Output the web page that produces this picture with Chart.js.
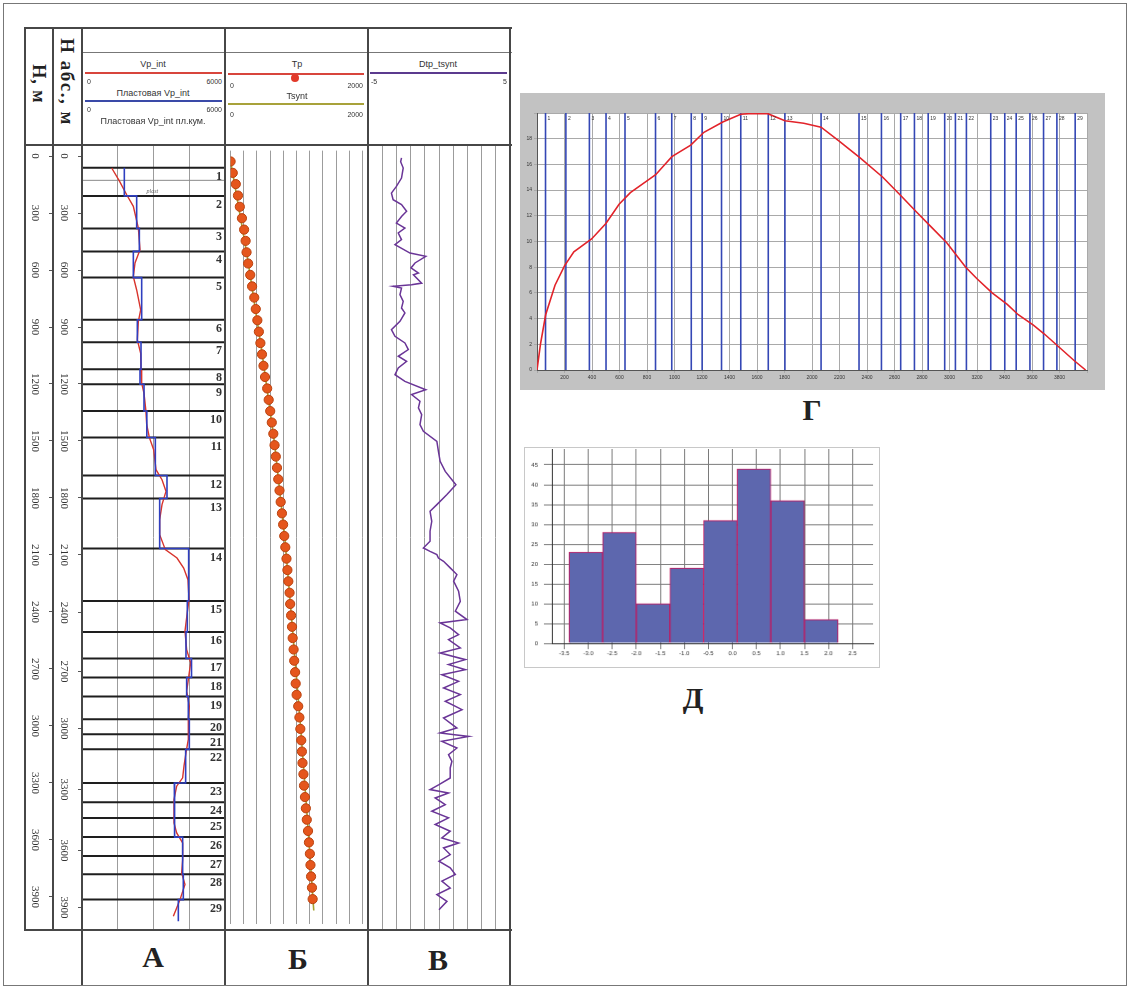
<!DOCTYPE html>
<html lang="ru">
<head>
<meta charset="utf-8">
<title>Скважина: Vp_int, Tp, Dtp_tsynt</title>
<script src="https://cdn.jsdelivr.net/npm/chart.js@4.4.1/dist/chart.umd.min.js"></script>
<style>
  body { margin: 0; background: #fff; }
  #page { position: relative; width: 1131px; height: 989px; overflow: hidden; font-family: 'Liberation Sans', Arial, sans-serif; }
  #page canvas { position: absolute; }
  .ln { position: absolute; }
  .tx { position: absolute; white-space: nowrap; line-height: 1; }
</style>
</head>
<body>
<div id="page">
  <canvas id="cA" width="200" height="785" style="left:25px;top:145px"></canvas>
  <canvas id="cB" width="143" height="785" style="left:225px;top:145px"></canvas>
  <canvas id="cC" width="142" height="785" style="left:368px;top:145px"></canvas>
  <canvas id="cG" width="585" height="297" style="left:520px;top:93px;background:#c2c2c2"></canvas>
  <canvas id="cD" width="356" height="221" style="left:524px;top:447px;border:1px solid #c8c8c8"></canvas>
</div>
<script>
'use strict';
// ---- данные ----
const depthTicks = [0, 300, 600, 900, 1200, 1500, 1800, 2100, 2400, 2700, 3000, 3300, 3600, 3900];
const absDepthLabels = [0, 300, 600, 900, 1200, 1500, 1800, 2100, 2400, 2700, 3000, 3300, 3600, 3900];
const absDepthAtMD = [0, 300, 600, 900, 1200, 1500, 1800, 2100, 2404, 2713, 3014, 3335, 3655, 3956];

// кровли пластов 1..29, м
const layerTops = [62, 210, 381, 502, 640, 862, 980, 1122, 1201, 1342, 1482, 1682, 1803, 2066, 2342,
  2505, 2645, 2745, 2845, 2965, 3043, 3123, 3300, 3402, 3485, 3585, 3684, 3781, 3914];
const layerBottom = 4028;
const plastVp = [1776, 2294, 2406, 2154, 2504, 2322, 2476, 2434, 2602, 2720, 3077, 3566, 3259, 4475, 4419,
  4363, 4595, 4391, 4461, 4503, 4503, 4349, 3874, 3902, 3874, 4223, 4223, 4251, 4042];
const subLines = [128];

const vpDepth = [63, 130, 204, 265, 379, 493, 563, 635, 705, 810, 871, 968, 1038, 1126, 1196, 1249, 1340, 1413,
  1481, 1546, 1651, 1704, 1765, 1835, 1914, 1993, 2072, 2116, 2169, 2230, 2335, 2420, 2502, 2598, 2668, 2756,
  2817, 2896, 2966, 3071, 3141, 3211, 3273, 3317, 3387, 3510, 3563, 3616, 3704, 3774, 3835, 3914, 3958, 4002];
const vpVals = [1246, 1560, 1875, 2154, 2364, 2434, 2224, 2154, 2294, 2462, 2364, 2322, 2462, 2476, 2504, 2602, 2680, 2714,
  2825, 3007, 3105, 3357, 3524, 3357, 3259, 3259, 3496, 3986, 4266, 4446, 4490, 4400, 4321, 4391, 4559, 4461,
  4391, 4503, 4461, 4461, 4363, 4279, 4223, 3972, 3860, 3860, 3972, 4223, 4223, 4181, 4321, 4112, 3972, 3832];

const tpDepth = [0, 61, 121, 182, 242, 303, 364, 424, 485, 545, 606, 667, 727, 788, 848, 909, 970, 1030, 1091, 1151,
  1212, 1273, 1333, 1394, 1454, 1515, 1576, 1636, 1697, 1757, 1818, 1879, 1939, 2000, 2060, 2121, 2182, 2242,
  2303, 2363, 2424, 2485, 2545, 2606, 2666, 2727, 2788, 2848, 2909, 2969, 3030, 3091, 3151, 3212, 3272, 3333,
  3394, 3454, 3515, 3575, 3636, 3697, 3757, 3818, 3878, 3939];
const tpVals = [0, 33, 79, 112, 140, 172, 205, 228, 242, 266, 298, 326, 359, 382, 406, 429, 452, 476, 499, 522,
  555, 578, 601, 625, 648, 667, 686, 704, 723, 742, 760, 779, 797, 814, 830, 848, 862, 876,
  895, 904, 918, 932, 942, 956, 965, 979, 988, 1002, 1026, 1044, 1058, 1072, 1082, 1091, 1105, 1114,
  1128, 1142, 1156, 1175, 1189, 1203, 1212, 1221, 1235, 1245];
const tsyntDepth = [0, 500, 1000, 1500, 2000, 2500, 3000, 3500, 4000];
const tsyntVals = [0, 250, 468, 665, 820, 940, 1058, 1163, 1262];

const dtpDepth = [10, 30, 63, 116, 160, 195, 230, 256, 291, 318, 353, 379, 405, 440, 467, 511, 528, 563, 589, 616,
  625, 669, 677, 686, 695, 730, 765, 800, 826, 870, 914, 949, 984, 1019, 1054, 1081, 1116, 1151, 1186, 1230,
  1256, 1291, 1326, 1361, 1414, 1449, 1502, 1555, 1607, 1660, 1730, 1782, 1835, 1870, 1923, 1975, 2028, 2063,
  2081, 2098, 2116, 2133, 2168, 2203, 2238, 2291, 2344, 2396, 2440, 2458, 2484, 2519, 2545, 2589, 2616, 2651,
  2677, 2704, 2730, 2765, 2800, 2835, 2870, 2914, 2958, 3011, 3037, 3055, 3081, 3116, 3151, 3186, 3221, 3274,
  3309, 3335, 3353, 3379, 3414, 3449, 3484, 3519, 3554, 3589, 3616, 3642, 3677, 3712, 3747, 3782, 3817, 3853,
  3888, 3923, 3967];
const dtpVals = [-2.64, -2.7, -2.52, -2.64, -3.0, -3.35, -3.23, -2.64, -2.28, -2.64, -3.0, -2.4, -2.87, -2.64, -3.1, -2.04,
  -0.93, -1.69, -1.97, -1.45, -1.8, -1.22, -1.93, -3.23, -2.64, -2.75, -2.52, -2.64, -2.4, -2.75, -3.35, -3.1, -2.4,
  -2.16, -2.87, -2.28, -2.87, -3.1, -2.4, -0.93, -1.93, -1.34, -1.45, -1.22, -1.34, -1.1, -0.15, -0.04, 0.08, 0.44,
  1.19, 0.56, -0.15, -0.63, -0.51, -0.63, -0.63, -1.1, -0.63, -0.15, -0.04, 0.32, 0.79, 1.26, 1.03, 1.38, 1.5, 1.15,
  1.97, 0.08, 0.79, 1.38, 0.67, 1.5, 0.08, 1.86, 0.67, 1.86, 0.2, 1.38, 0.32, 1.5, 0.44, 1.62, 0.32, 1.26, 0.08,
  2.09, 0.2, 1.26, 0.67, 0.91, 0.79, 0.79, 0, -0.63, 0.67, -0.27, 0.44, -0.51, 0.67, -0.27, 0.79, 0.2, 1.38, 0.32,
  0.79, 0, 0.79, 1.15, 0.2, 0.79, -0.15, 0.56, 0];

// панель Г
const gDepth = [0, 25, 63, 131, 200, 268, 397, 501, 597, 679, 797, 863, 981, 1118, 1214, 1351, 1482, 1540, 1679,
  1803, 1940, 2066, 2200, 2350, 2515, 2652, 2760, 2870, 2980, 3118, 3200, 3310, 3420, 3500, 3610, 3690, 3800, 3910, 3990];
const gVals = [0, 2.0, 4.3, 6.6, 8.1, 9.2, 10.2, 11.4, 12.9, 13.8, 14.7, 15.2, 16.6, 17.5, 18.5, 19.3, 19.9, 19.95, 19.95,
  19.4, 19.2, 18.9, 17.8, 16.5, 15.0, 13.5, 12.3, 11.1, 9.9, 8.0, 7.1, 6.0, 5.1, 4.3, 3.5, 2.8, 1.75, 0.7, 0];

// панель Д (гистограмма Dtp_tsynt)
const histCenters = [-3.05, -2.35, -1.65, -0.95, -0.25, 0.45, 1.15, 1.85];
const histCounts = [23, 28, 10, 19, 31, 44, 36, 6];

// ---- оформление ----
Chart.defaults.font.family = "'Liberation Sans', Arial, sans-serif";
const page = document.getElementById('page');
const DMIN = -58, DMAX = 4074;
const serif = "'Liberation Serif', 'Times New Roman', serif";

function ln(x, y, w, h, c) {
  const d = document.createElement('div');
  d.className = 'ln';
  d.style.cssText = 'left:' + x + 'px;top:' + y + 'px;width:' + w + 'px;height:' + h + 'px;background:' + (c || '#474747');
  page.appendChild(d);
}
function tx(s, x, y, o) {
  o = o || {};
  const d = document.createElement('div');
  d.className = 'tx';
  d.textContent = s;
  const al = o.align || 'center';
  const tr = al === 'center' ? 'translate(-50%,-50%)' : al === 'left' ? 'translate(0,-50%)' : 'translate(-100%,-50%)';
  d.style.cssText = 'left:' + x + 'px;top:' + y + 'px;font-size:' + (o.size || 9) + 'px;color:' + (o.color || '#333') +
    ';transform:' + tr + (o.rot ? ' rotate(90deg)' : '') + ';' + (o.css || '');
  page.appendChild(d);
}

function noSpace(s) {
  if (s.isHorizontal()) s.height = 0; else s.width = 0;
  s.paddingLeft = s.paddingRight = s.paddingTop = s.paddingBottom = 0;
}
const baseOpts = {
  responsive: false, animation: false, events: [],
  layout: { padding: 0 },
  plugins: { legend: { display: false }, tooltip: { enabled: false } }
};
function pts(xs, ys) { return xs.map((v, i) => ({ x: v, y: ys[i] })); }
function trackX(min, max, step) {
  return {
    type: 'linear', min: min, max: max,
    ticks: { stepSize: step, display: false },
    grid: { color: '#9c9c9c', lineWidth: 1, drawTicks: false },
    border: { display: false },
    afterFit: noSpace
  };
}
const hiddenDepth = { type: 'linear', reverse: true, min: DMIN, max: DMAX, display: false };

// ---- трек А ----
const stepPts = [];
layerTops.forEach((d, i) => {
  const bot = i < layerTops.length - 1 ? layerTops[i + 1] : layerBottom;
  stepPts.push({ x: plastVp[i], y: d }, { x: plastVp[i], y: bot });
});
const boundPts = [];
layerTops.forEach(d => boundPts.push({ x: 0, y: d }, { x: 6000, y: d }, { x: null, y: null }));
const subPts = [];
subLines.forEach(d => subPts.push({ x: 0, y: d }, { x: 6000, y: d }, { x: null, y: null }));

const layerLabels = {
  id: 'layerLabels',
  afterDatasetsDraw(chart) {
    const { ctx, chartArea, scales } = chart;
    ctx.save();
    ctx.font = 'bold 12px ' + serif;
    ctx.fillStyle = '#333';
    ctx.textAlign = 'right';
    ctx.textBaseline = 'top';
    layerTops.forEach((d, i) => ctx.fillText(String(i + 1), chartArea.right - 3, scales.y.getPixelForValue(d) + 3));
    ctx.font = 'italic 6px ' + serif;
    ctx.fillStyle = '#666';
    ctx.textAlign = 'center';
    ctx.fillText('plast', scales.x.getPixelForValue(2950), scales.y.getPixelForValue(170));
    ctx.restore();
  }
};

function depthAxis(weight, width, ticksAt, labels) {
  return {
    type: 'linear', position: 'left', weight: weight, reverse: true, min: DMIN, max: DMAX,
    afterBuildTicks: s => { s.ticks = ticksAt.map(v => ({ value: v })); },
    ticks: {
      autoSkip: false, minRotation: -90, maxRotation: -90, crossAlign: 'center', padding: 3,
      font: { family: serif, size: 11 }, color: '#333',
      callback: (v, i) => String(labels[i])
    },
    grid: { drawOnChartArea: false, tickLength: 4, color: '#555' },
    border: { display: false },
    afterFit: s => { s.width = width; s.paddingTop = 0; s.paddingBottom = 0; }
  };
}

new Chart(document.getElementById('cA'), {
  type: 'scatter',
  data: {
    datasets: [
      { label: 'Пластовая Vp_int', data: stepPts, showLine: true, borderColor: '#2f3fc0', borderWidth: 1.6, pointRadius: 0 },
      { label: 'Vp_int', data: pts(vpVals, vpDepth), showLine: true, borderColor: '#d8342c', borderWidth: 1.4, pointRadius: 0 },
      { label: 'границы', data: boundPts, showLine: true, spanGaps: false, borderColor: '#1e1e1e', borderWidth: 2, pointRadius: 0 },
      { label: 'подграницы', data: subPts, showLine: true, spanGaps: false, borderColor: '#8a8a8a', borderWidth: 1, pointRadius: 0 }
    ]
  },
  options: Object.assign({}, baseOpts, {
    scales: {
      x: trackX(0, 6000, 1500),
      y: depthAxis(2, 28, depthTicks, depthTicks),
      yAbs: depthAxis(1, 29, absDepthAtMD, absDepthLabels)
    }
  }),
  plugins: [layerLabels]
});

// ---- трек Б ----
new Chart(document.getElementById('cB'), {
  type: 'scatter',
  data: {
    datasets: [
      { label: 'Tp', data: pts(tpVals, tpDepth), pointRadius: 4.6, pointBackgroundColor: '#e5561d', pointBorderColor: '#b8420f', pointBorderWidth: 1 },
      { label: 'Tsynt', data: pts(tsyntVals, tsyntDepth), showLine: true, borderColor: '#a4a232', borderWidth: 1.6, pointRadius: 0 }
    ]
  },
  options: Object.assign({}, baseOpts, { scales: { x: trackX(0, 2000, 200), y: hiddenDepth } })
});

// ---- трек В ----
new Chart(document.getElementById('cC'), {
  type: 'scatter',
  data: {
    datasets: [
      { label: 'Dtp_tsynt', data: pts(dtpVals, dtpDepth), showLine: true, borderColor: '#6a3597', borderWidth: 1.5, pointRadius: 0 }
    ]
  },
  options: Object.assign({}, baseOpts, { scales: { x: trackX(-5, 5, 1), y: hiddenDepth } })
});

// ---- панель Г ----
const gLines = [];
layerTops.forEach(d => gLines.push({ x: d, y: 0 }, { x: d, y: 20 }, { x: null, y: null }));
const gDecor = {
  id: 'gDecor',
  beforeDraw(chart) {
    const { ctx, chartArea: a } = chart;
    ctx.save();
    ctx.fillStyle = '#fff';
    ctx.fillRect(a.left, a.top, a.right - a.left, a.bottom - a.top);
    ctx.restore();
  },
  afterDatasetsDraw(chart) {
    const { ctx, chartArea: a, scales } = chart;
    ctx.save();
    ctx.font = '5px ' + chart.options.font.family;
    ctx.fillStyle = '#333';
    ctx.textBaseline = 'top';
    layerTops.forEach((d, i) => ctx.fillText(String(i + 1), scales.x.getPixelForValue(d) + 2, a.top + 3));
    ctx.restore();
  }
};
new Chart(document.getElementById('cG'), {
  type: 'scatter',
  data: {
    datasets: [
      { label: 'Г', data: pts(gDepth, gVals), showLine: true, borderColor: '#e2232a', borderWidth: 1.6, pointRadius: 0 },
      { label: 'пласты', data: gLines, showLine: true, spanGaps: false, borderColor: '#3447b5', borderWidth: 1.6, pointRadius: 0 }
    ]
  },
  options: Object.assign({}, baseOpts, {
    layout: { padding: { top: 20, right: 18, left: 0, bottom: 0 } },
    scales: {
      x: {
        type: 'linear', min: 0, max: 4000,
        ticks: { stepSize: 200, autoSkip: false, maxRotation: 0, font: { size: 5 }, color: '#333', padding: 2,
          callback: v => (v === 0 || v === 4000 ? '' : String(v)) },
        grid: { color: '#a9a9a9', tickLength: 3 },
        border: { color: '#555' },
        afterFit: s => { s.height = 20; s.paddingLeft = s.paddingRight = 0; }
      },
      y: {
        type: 'linear', min: 0, max: 20,
        ticks: { stepSize: 2, font: { size: 5 }, color: '#333', padding: 2,
          callback: v => (v === 20 ? '' : String(v)) },
        grid: { color: '#a9a9a9', tickLength: 3 },
        border: { color: '#555' },
        afterFit: s => { s.width = 17; s.paddingTop = s.paddingBottom = 0; }
      }
    }
  }),
  plugins: [gDecor]
});

// ---- панель Д ----
new Chart(document.getElementById('cD'), {
  type: 'bar',
  data: {
    datasets: [{
      label: 'Dtp_tsynt', data: pts(histCenters, histCounts),
      backgroundColor: '#5d67ae', borderColor: '#c4175e', borderWidth: 1,
      barThickness: 'flex', barPercentage: 1, categoryPercentage: 1
    }]
  },
  options: Object.assign({}, baseOpts, {
    layout: { padding: { top: 1, right: 6, left: 0, bottom: 0 } },
    scales: {
      x: {
        type: 'linear', min: -3.5, max: 2.67,
        ticks: { stepSize: 0.5, includeBounds: false, autoSkip: false, maxRotation: 0, font: { size: 6 }, color: '#333', padding: 1,
          callback: v => v.toFixed(1) },
        grid: { color: '#7a7a7a', tickLength: 6, offset: false },
        border: { color: '#333' },
        afterFit: s => { s.height = 24; s.paddingLeft = s.paddingRight = 0; }
      },
      y: {
        type: 'linear', min: 0, max: 49,
        ticks: { stepSize: 5, includeBounds: false, font: { size: 6 }, color: '#333', padding: 6 },
        grid: { color: '#7a7a7a', tickLength: 8 },
        border: { color: '#333' },
        afterFit: s => { s.width = 27; s.paddingTop = s.paddingBottom = 0; }
      }
    }
  })
});

// ---- таблица планшета ----
ln(3, 3, 1124, 1, '#777'); ln(3, 985, 1124, 1, '#777'); ln(3, 3, 1, 983, '#777'); ln(1126, 3, 1, 983, '#777');
ln(25, 27, 487, 2); ln(82, 52, 430, 1, '#777'); ln(25, 144, 487, 2); ln(25, 929, 487, 2);
ln(24, 27, 2, 904); ln(52, 27, 2, 904);
[81, 224, 367, 509].forEach(x => ln(x, 27, 2, 958));

// заголовок
tx('Н, м', 39, 84, { size: 18, rot: true, color: '#222', css: 'font-family:' + serif + ';font-weight:bold;letter-spacing:1px' });
tx('Н абс., м', 67, 82, { size: 19, rot: true, color: '#222', css: 'font-family:' + serif + ';font-weight:bold;letter-spacing:1.5px' });

tx('Vp_int', 153, 64); ln(85, 72, 137, 2, '#d8453c');
tx('0', 87, 81, { size: 7, align: 'left' }); tx('6000', 222, 81, { size: 7, align: 'right' });
tx('Пластовая Vp_int', 153, 93); ln(85, 100, 137, 2, '#3a4aa8');
tx('0', 87, 109, { size: 7, align: 'left' }); tx('6000', 222, 109, { size: 7, align: 'right' });
tx('Пластовая Vp_int пл.кум.', 153, 121);

tx('Tp', 297, 64); ln(228, 73, 136, 2, '#d8453c');
const dot = document.createElement('div');
dot.style.cssText = 'position:absolute;left:291px;top:74px;width:8px;height:8px;border-radius:50%;background:#e23a2a';
page.appendChild(dot);
tx('0', 230, 85, { size: 7, align: 'left' }); tx('2000', 363, 85, { size: 7, align: 'right' });
tx('Tsynt', 297, 96); ln(228, 103, 136, 2, '#a8a23a');
tx('0', 230, 114, { size: 7, align: 'left' }); tx('2000', 363, 114, { size: 7, align: 'right' });

tx('Dtp_tsynt', 438, 64); ln(370, 72, 137, 2, '#5b3a8e');
tx('-5', 371, 81, { size: 7, align: 'left' }); tx('5', 507, 81, { size: 7, align: 'right' });

// подписи панелей
const big = 'font-family:' + serif + ';font-weight:bold';
tx('А', 153, 957, { size: 30, color: '#222', css: big });
tx('Б', 298, 959, { size: 30, color: '#222', css: big });
tx('В', 438, 960, { size: 30, color: '#222', css: big });
tx('Г', 812, 410, { size: 30, color: '#222', css: big });
tx('Д', 693, 698, { size: 30, color: '#222', css: big });
</script>
</body>
</html>
